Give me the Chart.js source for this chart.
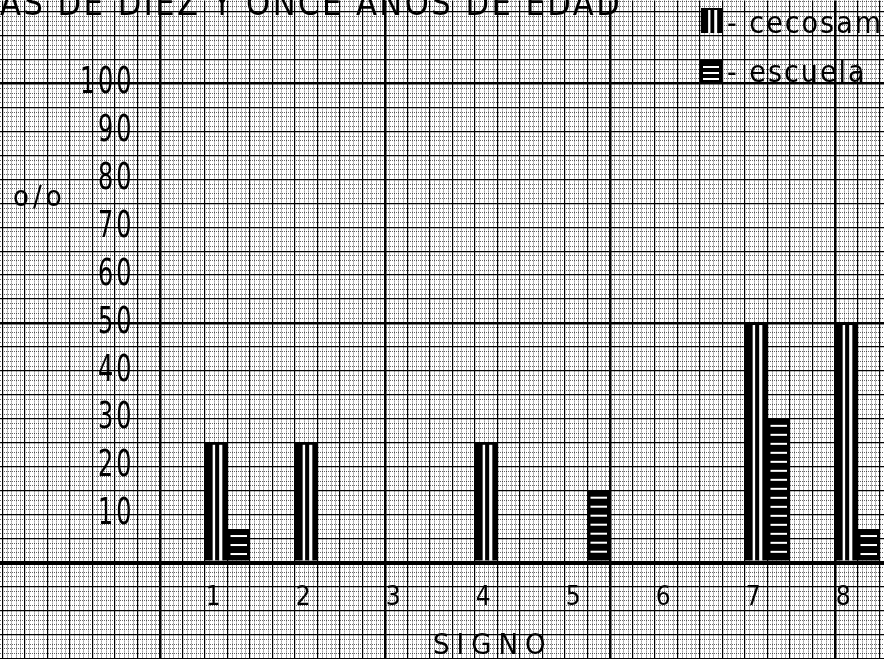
<!DOCTYPE html>
<html><head><meta charset="utf-8">
<script src="https://cdn.jsdelivr.net/npm/chart.js@4/dist/chart.umd.min.js"></script>
<style>html,body{margin:0;padding:0;background:#fff;}canvas{display:block;}</style>
</head><body>
<canvas id="c" width="884" height="659"></canvas>
<script>
// ---- data ----
const categories = ['1', '2', '3', '4', '5', '6', '7', '8'];
const cecosam = [25, 25, 0, 25, 0, 0, 50, 50];
const escuela = [7, 0, 0, 0, 15, 0, 30, 7];
const yTickLabels = ['10', '20', '30', '40', '50', '60', '70', '80', '90', '100'];
const seriesNames = ['cecosam', 'escuela'];
const titleText = 'AS DE DIEZ Y ONCE AÑOS DE EDAD';
const xTitle = 'SIGNO';
const yTitle = 'o/o';

// ---- styling / layout ----
const FONT = "'DejaVu Sans Condensed', 'Liberation Sans Narrow', sans-serif";
const X_MIN = -1.5278, X_MAX = 8.2944;   // category units; the graph paper covers the whole page
const Y_MIN = -20, Y_MAX = 117.29;      // percent units
const Y_SQUEEZE = 0.72;                 // narrow lettering of the % labels
const Y_LABEL_AT = 0.544;               // x value of the % label anchor (before squeezing)
const X_LABEL_AT = -4.2;                // y value where the category labels sit

function xKind(c) { if (!c || !c.tick) return 1; const f = Math.round(c.tick.value * 20); if ((((f - 5) % 50) + 50) % 50 === 0) return 2; if (f % 5 === 0) return 1; return 0; }
function yKind(c) { if (!c || !c.tick) return 1; const f = Math.round(c.tick.value); if (f % 50 === 0) return f === 0 ? 3 : 2; if (f % 5 === 0) return 1; return 0; }
const LW = [1, 1.2, 2.5, 4];
const COL = ['rgba(0,0,0,0.6)', '#000', '#000', '#000'];
const DASH = [[1, 1], [], [], []];

function catLabel(v) {
  const r = Math.round(v);
  return (Math.abs(v - r) < 1e-6 && r >= 1 && r <= categories.length) ? categories[r - 1] : '';
}
function pctLabel(v) {
  const r = Math.round(v);
  return (r % 10 === 0 && r >= 10 && r <= 100) ? yTickLabels[r / 10 - 1] : '';
}

function stripesV(ctx, left, top, w, h) {
  ctx.fillStyle = '#fff';
  ctx.fillRect(left + 0.34 * w, top + 2, 0.11 * w, h - 2);
  ctx.fillRect(left + 0.63 * w, top + 2, 0.14 * w, h - 2);
}
function stripesH(ctx, left, top, w, h, step) {
  ctx.fillStyle = '#fff';
  for (let yy = top + 6; yy <= top + h - 4; yy += step) ctx.fillRect(left + 3, yy, w - 6, 2);
}

const paperPlugin = {
  id: 'paper',
  beforeDraw(chart) { chart.ctx.letterSpacing = '2.5px'; },
  afterDatasetsDraw(chart) {
    const ctx = chart.ctx;
    ctx.save();
    chart.data.datasets.forEach((ds, di) => {
      chart.getDatasetMeta(di).data.forEach(el => {
        const p = el.getProps(['x', 'y', 'base', 'width'], true);
        const h = p.base - p.y;
        if (h < 1) return;
        const left = p.x - p.width / 2;
        if (di === 0) stripesV(ctx, left, p.y, p.width, h);
        else stripesH(ctx, left, p.y, p.width, h, 9);
      });
    });
    ctx.restore();
    // the % labels (drawn next, z = 1) use narrow lettering
    ctx.letterSpacing = '4px';
    ctx.setTransform(Y_SQUEEZE, 0, 0, 1, 0, 0);
  },
  afterDraw(chart) {
    const ctx = chart.ctx;
    ctx.setTransform(1, 0, 0, 1, 0, 0);
    const ca = chart.chartArea;
    ctx.save();
    ctx.fillStyle = '#000';
    ctx.textAlign = 'left';
    ctx.textBaseline = 'alphabetic';
    ctx.font = '29px ' + FONT;
    ctx.letterSpacing = '4px';
    ctx.fillText(yTitle, ca.left + 13, ca.top + 205);
    ctx.letterSpacing = '7px';
    ctx.fillText(xTitle, ca.left + 433, ca.top + 653);
    const lx = ca.right - 183;
    ctx.font = '30px ' + FONT;
    ctx.letterSpacing = '2px';
    ctx.fillStyle = '#000';
    ctx.fillRect(lx, 8, 21, 25);
    stripesV(ctx, lx, 8, 21, 25);
    ctx.fillStyle = '#000';
    ctx.fillText('- ' + seriesNames[0], lx + 26, 33);
    ctx.fillRect(lx - 1, 60, 22, 22);
    stripesH(ctx, lx - 1, 60, 22, 22, 6);
    ctx.fillStyle = '#000';
    ctx.fillText('- ' + seriesNames[1], lx + 26, 82);
    ctx.restore();
    ctx.letterSpacing = '0px';
  }
};

const tinyFont = { family: FONT, size: 1 };

const chart = new Chart(document.getElementById('c'), {
  type: 'bar',
  data: {
    datasets: [
      { label: seriesNames[0], data: cecosam.map((v, i) => ({ x: i + 1, y: v })), backgroundColor: '#000', borderWidth: 0 },
      { label: seriesNames[1], data: escuela.map((v, i) => ({ x: i + 1, y: v })), backgroundColor: '#000', borderWidth: 0 }
    ]
  },
  options: {
    responsive: false,
    animation: false,
    events: [],
    layout: { padding: 0 },
    datasets: { bar: { categoryPercentage: 0.5, barPercentage: 1.0 } },
    plugins: {
      legend: { display: false },
      tooltip: { enabled: false },
      title: {
        display: true, text: titleText, align: 'start', color: '#000',
        font: { family: FONT, size: 34, weight: 'normal' },
        padding: { top: -14.4, bottom: -26.4 }
      }
    },
    scales: {
      x: {
        type: 'linear', min: X_MIN, max: X_MAX, offset: false, position: { y: X_LABEL_AT },
        border: { display: false },
        grid: { display: false, drawTicks: false, offset: false },
        ticks: {
          stepSize: 1, autoSkip: false, maxRotation: 0, includeBounds: false,
          labelOffset: -13, padding: 0, color: '#000',
          font: (c) => (c.tick && catLabel(c.tick.value) ? { family: FONT, size: 26 } : tinyFont),
          callback: (v) => catLabel(v)
        }
      },
      xp: {
        type: 'linear', axis: 'x', min: X_MIN, max: X_MAX, offset: false, position: { y: 0 },
        border: { display: false, dash: (c) => DASH[xKind(c)] },
        grid: {
          drawTicks: false, offset: false,
          lineWidth: (c) => LW[xKind(c)],
          color: (c) => COL[xKind(c)]
        },
        ticks: { display: false, stepSize: 0.05, autoSkip: false, includeBounds: false }
      },
      y: {
        type: 'linear', min: Y_MIN, max: Y_MAX, position: { x: Y_LABEL_AT },
        border: { display: false, dash: (c) => DASH[yKind(c)] },
        grid: {
          drawTicks: false,
          lineWidth: (c) => LW[yKind(c)],
          color: (c) => COL[yKind(c)]
        },
        ticks: {
          z: 1,
          stepSize: 1, autoSkip: false, includeBounds: false, color: '#000', padding: 0,
          font: (c) => (c.tick && pctLabel(c.tick.value) ? { family: FONT, size: 37 } : tinyFont),
          callback: (v) => pctLabel(v)
        }
      }
    }
  },
  plugins: [paperPlugin]
});
</script>
</body></html>
